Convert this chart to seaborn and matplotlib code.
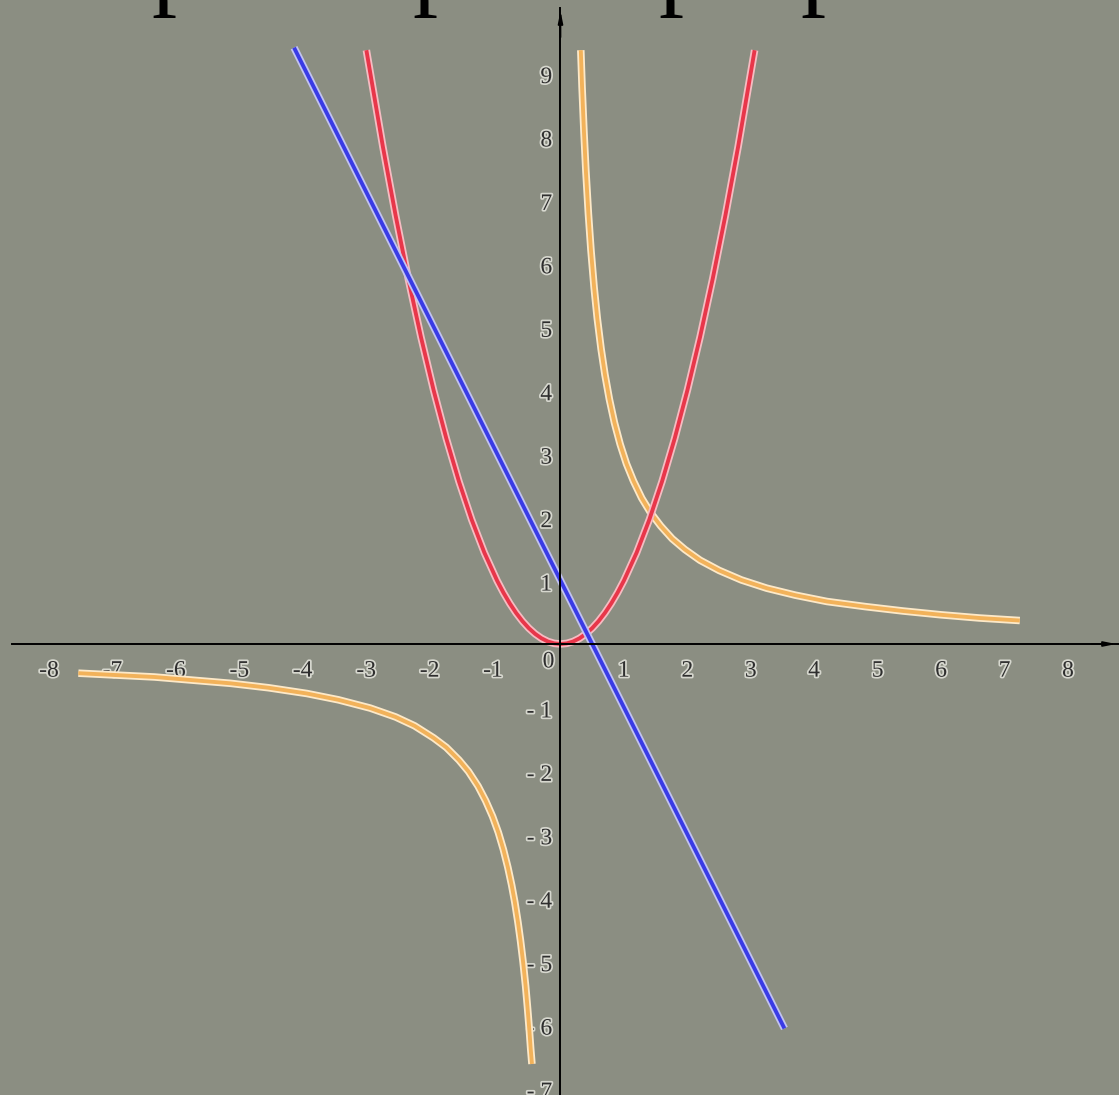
#!/usr/bin/env python3
"""Recreate the hand-plotted graph of y = x^2, y = 1 - 2x and the hyperbola."""

import matplotlib.pyplot as plt
import matplotlib.patheffects as pe
import matplotlib.transforms as mtransforms
import pandas as pd
import seaborn as sns

# values
PARABOLA_X = [-3.06, -2.8, -2.6, -2.4, -2.2, -2.0, -1.8, -1.6, -1.4, -1.2, -1.0,
              -0.9, -0.8, -0.7, -0.6, -0.5, -0.4, -0.3, -0.2, -0.1, 0.0,
              0.1, 0.2, 0.3, 0.4, 0.5, 0.6, 0.7, 0.8, 0.9, 1.0,
              1.2, 1.4, 1.6, 1.8, 2.0, 2.2, 2.4, 2.6, 2.8, 3.06]
PARABOLA_Y = [9.36, 7.84, 6.76, 5.76, 4.84, 4.0, 3.24, 2.56, 1.96, 1.44, 1.0,
              0.81, 0.64, 0.49, 0.36, 0.25, 0.16, 0.09, 0.04, 0.01, 0.0,
              0.01, 0.04, 0.09, 0.16, 0.25, 0.36, 0.49, 0.64, 0.81, 1.0,
              1.44, 1.96, 2.56, 3.24, 4.0, 4.84, 5.76, 6.76, 7.84, 9.36]

LINE_X = [-4.2, 3.53]
LINE_Y = [9.4, -6.06]

HYP_RIGHT_X = [0.32, 0.34, 0.37, 0.40, 0.44, 0.48, 0.53, 0.58, 0.64, 0.70, 0.77,
               0.85, 0.94, 1.04, 1.15, 1.28, 1.42, 1.58, 1.76, 1.96, 2.2,
               2.5, 2.85, 3.25, 3.7, 4.2, 4.8, 5.4, 6.0, 6.6, 7.24]
HYP_RIGHT_Y = [9.36, 8.78, 8.07, 7.46, 6.78, 6.21, 5.62, 5.13, 4.65, 4.25, 3.86,
               3.49, 3.15, 2.84, 2.57, 2.30, 2.07, 1.86, 1.66, 1.49, 1.32,
               1.16, 1.01, 0.88, 0.77, 0.67, 0.59, 0.52, 0.46, 0.41, 0.37]

HYP_LEFT_X = [-7.6, -7.0, -6.4, -5.8, -5.2, -4.6, -4.0, -3.5, -3.0, -2.6, -2.3,
              -2.0, -1.8, -1.6, -1.45, -1.3, -1.18, -1.07, -0.98, -0.9, -0.83,
              -0.77, -0.72, -0.67, -0.63, -0.59, -0.55, -0.52, -0.49, -0.47, -0.45]
HYP_LEFT_Y = [-0.46, -0.49, -0.52, -0.57, -0.62, -0.69, -0.78, -0.88, -1.01, -1.15, -1.29,
              -1.48, -1.63, -1.83, -2.01, -2.24, -2.47, -2.72, -2.97, -3.24, -3.52,
              -3.80, -4.07, -4.39, -4.68, -5.01, -5.39, -5.73, -6.10, -6.38, -6.62]

X_TICKS = [-8, -7, -6, -5, -4, -3, -2, -1, 1, 2, 3, 4, 5, 6, 7, 8]
Y_TICKS = [-7, -6, -5, -4, -3, -2, -1, 1, 2, 3, 4, 5, 6, 7, 8, 9]

# x positions (px) of the cut-off title letters at the top edge
TITLE_LETTER_PX = [163, 424, 670, 812]

BG = "#8b8e82"
W, H = 1119, 1095


def setup_style():
    sns.set_theme(style="white")
    plt.rcParams.update({
        "figure.dpi": 100,
        "axes.unicode_minus": False,
    })
    plt.rcParams["font.family"] = ["Liberation Serif", "DejaVu Serif"]


def draw_curve(ax, xs, ys, core, halo):
    df = pd.DataFrame({"x": xs, "y": ys})
    sns.lineplot(data=df, x="x", y="y", sort=False, estimator=None, ax=ax,
                 color=core, linewidth=2.8, solid_capstyle="butt",
                 solid_joinstyle="round",
                 path_effects=[pe.Stroke(linewidth=5.4, foreground=halo),
                               pe.Normal()])


def main():
    setup_style()
    fig = plt.figure(figsize=(W / 100, H / 100), dpi=100)
    fig.patch.set_facecolor(BG)
    ax = fig.add_axes([0, 0, 1, 1])
    ax.set_facecolor(BG)

    unit = 63.44
    ox, oy = 560.5, 644.0
    ax.set_xlim(-ox / unit, (W - ox) / unit)
    ax.set_ylim((oy - H) / unit, oy / unit)

    draw_curve(ax, HYP_LEFT_X, HYP_LEFT_Y, "#f2b25a", "#fde9c8")
    draw_curve(ax, HYP_RIGHT_X, HYP_RIGHT_Y, "#f2b25a", "#fde9c8")
    draw_curve(ax, PARABOLA_X, PARABOLA_Y, "#e8364a", "#f6bcc2")
    draw_curve(ax, LINE_X, LINE_Y, "#3a3be6", "#c2c3f2")

    # axes through the origin
    for side in ("top", "right"):
        ax.spines[side].set_visible(False)
    ax.spines["left"].set_position("zero")
    ax.spines["bottom"].set_position("zero")
    for side in ("left", "bottom"):
        ax.spines[side].set_color("black")
        ax.spines[side].set_linewidth(1.4)
    ax.spines["left"].set_bounds((oy - H) / unit, (oy - 8) / unit)
    ax.spines["bottom"].set_bounds((12 - ox) / unit, (W - ox) / unit)
    ax.annotate("", xy=(0, (oy - 8) / unit), xytext=(0, (oy - 40) / unit),
                arrowprops=dict(arrowstyle="-|>,head_length=0.6,head_width=0.12",
                                color="black", lw=1.2))
    ax.annotate("", xy=((W - ox) / unit, 0), xytext=((W - ox - 30) / unit, 0),
                arrowprops=dict(arrowstyle="-|>,head_length=0.6,head_width=0.12",
                                color="black", lw=1.2))

    ax.set_xticks(X_TICKS)
    ax.set_yticks(Y_TICKS)
    ax.set_xticklabels([f"{t}" for t in X_TICKS])
    ax.set_yticklabels([f"- {-t}" if t < 0 else f"{t}" for t in Y_TICKS])
    ax.tick_params(axis="both", direction="inout", length=8, width=1.2,
                   color="black", labelsize=17, labelcolor="#2e2e2e")
    ax.tick_params(axis="x", pad=8)
    ax.tick_params(axis="y", pad=2)
    ax.set_xlabel("")
    ax.set_ylabel("")

    glow = [pe.withStroke(linewidth=2.5, foreground="#d6d7ce")]
    shift_x = mtransforms.ScaledTranslation(0.058, 0, fig.dpi_scale_trans)
    for lab in ax.get_xticklabels():
        lab.set_ha("right")
        lab.set_transform(lab.get_transform() + shift_x)
        lab.set_path_effects(glow)
    shift_y = mtransforms.ScaledTranslation(0, -0.02, fig.dpi_scale_trans)
    for lab in ax.get_yticklabels():
        lab.set_transform(lab.get_transform() + shift_y)
        lab.set_path_effects(glow)

    ax.annotate("0", xy=(0, 0), xytext=(-12, -18), textcoords="offset pixels",
                ha="center", va="center", fontsize=17, color="#2e2e2e",
                path_effects=glow)

    # bottoms of the title letters that are cut off by the top edge
    for px in TITLE_LETTER_PX:
        fig.text((px - 12) / W, 1 + 2.7 / H, "p", fontsize=72, color="black",
                 ha="left", va="baseline", family="Liberation Serif")

    fig.savefig("out.png", dpi=100, facecolor=BG)
    plt.close(fig)


if __name__ == "__main__":
    main()
